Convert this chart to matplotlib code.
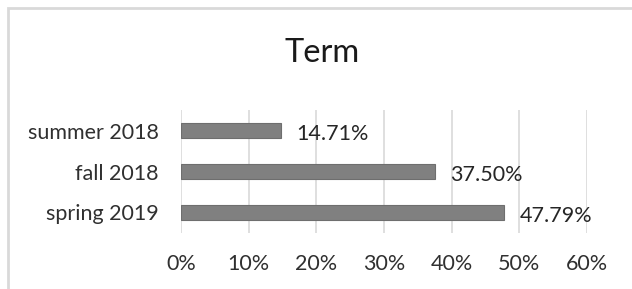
import matplotlib
matplotlib.use("Agg")
import matplotlib.pyplot as plt
from matplotlib.patches import Rectangle
from matplotlib.ticker import FuncFormatter, MultipleLocator

categories = ["spring 2019", "fall 2018", "summer 2018"]
values = [47.79, 37.50, 14.71]
labels = ["47.79%", "37.50%", "14.71%"]
title = "Term"

plt.rcParams['font.family'] = ['Lato', 'DejaVu Sans']

fig = plt.figure(figsize=(6.32, 2.89), dpi=100)
fig.patch.set_facecolor('white')
# outer chart frame
fig.patches.append(Rectangle((8/632, -0.05), 640/632, 1 - 8/289 + 0.05, transform=fig.transFigure,
                             fill=False, edgecolor='#d9d9d9', linewidth=2.0))

ax = fig.add_axes([181/632, 1 - 233/289, 406/632, 123/289])
y = range(len(categories))
ax.barh(y, values, height=0.39, color='#808080', edgecolor='#6e6e6e', linewidth=0.8, zorder=3)
for yi, v, lab in zip(y, values, labels):
    ax.annotate(lab, (v, yi), xytext=(11, -2.5), textcoords='offset points', va='center', ha='left',
                fontsize=15.5, color='#262626')

ax.set_xlim(0, 60)
ax.set_ylim(-0.5, 2.5)
ax.xaxis.set_major_locator(MultipleLocator(10))
ax.xaxis.set_major_formatter(FuncFormatter(lambda x, p: f"{x:.0f}%"))
ax.set_yticks(list(y))
ax.set_yticklabels(categories)
ax.grid(axis='x', color='#d9d9d9', linewidth=1.2, zorder=0)
for s in ax.spines.values():
    s.set_visible(False)
ax.tick_params(axis='both', length=0, labelsize=15.5, colors='#303030')
ax.tick_params(axis='x', pad=15)
ax.tick_params(axis='y', pad=16)

fig.text(322/632, 1 - 53/289, title, ha='center', va='center', fontsize=23.5, color='#1a1a1a')

fig.savefig('out.png', dpi=100, facecolor='white')
